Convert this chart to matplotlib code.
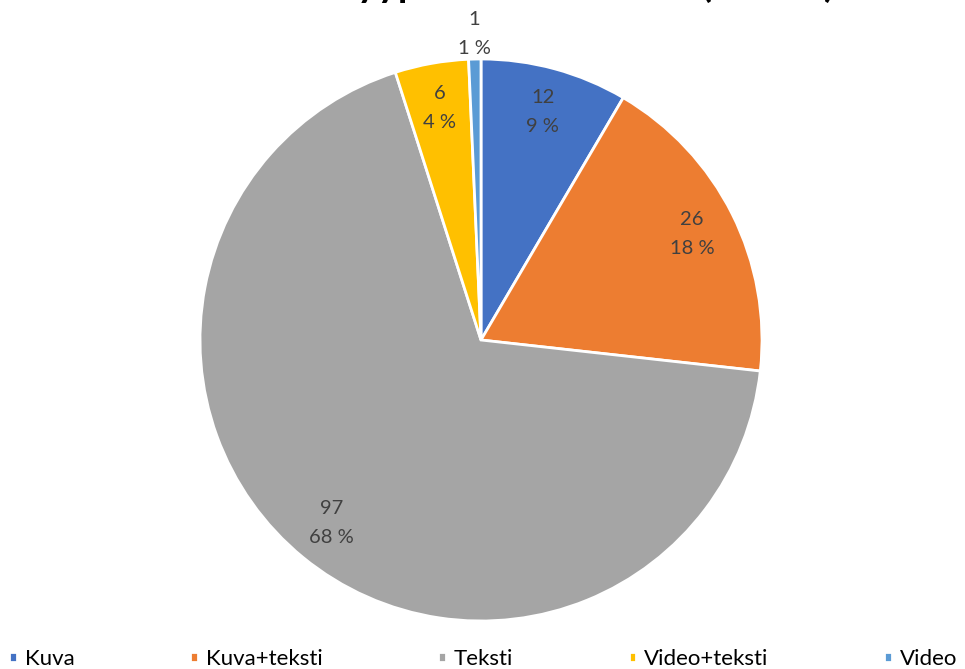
import matplotlib.pyplot as plt
import numpy as np

# data
categories = ['Kuva', 'Kuva+teksti', 'Teksti', 'Video+teksti', 'Video']
values = [12, 26, 97, 6, 1]
percents = ['9 %', '18 %', '68 %', '4 %', '1 %']
colors = ['#4472C4', '#ED7D31', '#A5A5A5', '#FFC000', '#5B9BD5']
title = 'Julkaisut tyypeittäin kanavilla (n=142)'

plt.rcParams['font.family'] = ['Lato', 'DejaVu Sans']

fig = plt.figure(figsize=(9.65, 6.69), dpi=100)
ax = fig.add_axes([0, 0, 1, 1])

R = 281.0
cx, cy = 481, 340
wedges, _ = ax.pie(values, colors=colors, startangle=90, counterclock=False,
                   radius=1.0, wedgeprops=dict(edgecolor='white', linewidth=2))

# labels: value on one line, percent below
total = sum(values)
angle = 90.0
for i, v in enumerate(values):
    sweep = 360.0 * v / total
    mid = np.deg2rad(angle - sweep / 2)
    angle -= sweep
    r = 1.09 if i == 4 else 0.84
    x, y = r * np.cos(mid), r * np.sin(mid)
    ax.text(x, y, f'{v}\n{percents[i]}', ha='center', va='center',
            fontsize=14.5, color='#404040', linespacing=1.85)

ax.set_aspect('equal')
ax.set_xlim(-cx / R, (965 - cx) / R)
ax.set_ylim(-(669 - cy) / R, cy / R)
ax.axis('off')

# title sits mostly above the top edge, as in the source image
fig.text(0.526, 1 + 3 / 669, title, ha='center', va='baseline',
         fontsize=28, fontweight='bold', color='black')

fig.legend(wedges, categories, loc='lower left', bbox_to_anchor=(-0.011, -0.03),
           ncol=5, frameon=False, fontsize=16, handlelength=0.35, handleheight=0.35,
           handletextpad=0.35, columnspacing=5.2, labelcolor='black')

fig.savefig('out.png', dpi=100)
